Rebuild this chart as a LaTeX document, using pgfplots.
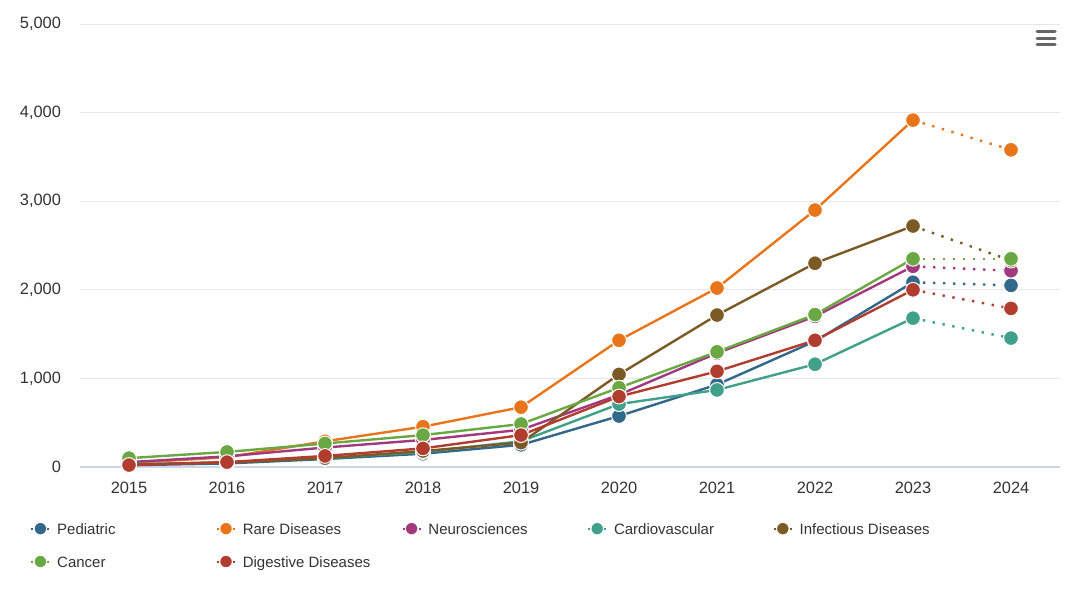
\documentclass[border=0pt]{standalone}
\usepackage{pgfplots}
\pgfplotsset{compat=1.18}
\usepackage{pgfplotstable}
\usepackage{fontspec}
\setmainfont{Liberation Sans}

\definecolor{pedc}{RGB}{50,104,138}
\definecolor{rarec}{RGB}{232,117,26}
\definecolor{neuroc}{RGB}{160,57,126}
\definecolor{cardc}{RGB}{64,160,138}
\definecolor{infc}{RGB}{123,90,37}
\definecolor{canc}{RGB}{106,168,67}
\definecolor{digc}{RGB}{176,61,46}
\definecolor{gridc}{RGB}{230,230,230}
\definecolor{axisc}{RGB}{204,214,235}
\definecolor{txtc}{RGB}{51,51,51}
\definecolor{menuc}{RGB}{102,102,102}

\pgfplotstableread{
year ped rare neuro cardio infect cancer digest
2015 20 45 55 30 25 100 22
2016 40 110 120 55 50 170 55
2017 90 290 220 100 100 265 125
2018 150 455 305 170 180 360 210
2019 250 675 420 290 275 485 360
2020 575 1430 815 710 1045 895 795
2021 930 2020 1285 870 1715 1300 1080
2022 1420 2900 1700 1160 2300 1720 1430
2023 2085 3915 2265 1680 2720 2350 2000
}\solid

\pgfplotstableread{
year ped rare neuro cardio infect cancer digest
2023 2085 3915 2265 1680 2720 2350 2000
2024 2050 3580 2215 1455 2330 2350 1790
}\proj

\newcommand{\legimg}[1]{%
  \draw[#1, line width=1pt] (0pt,1.2pt) -- (1pt,1.2pt) (8pt,1.2pt) -- (9pt,1.2pt);
  \fill[#1, draw=white, line width=0.4pt] (4.5pt,1.2pt) circle (3.1pt);}

\begin{document}
\begin{tikzpicture}
\useasboundingbox (0,0) rectangle (540pt,295pt);
\begin{axis}[
  at={(40pt,61.5pt)}, anchor=south west,
  scale only axis, width=490pt, height=221.5pt,
  xmin=2014.5, xmax=2024.5, ymin=0, ymax=5000,
  xtick={2015,2016,...,2024}, ytick={0,1000,...,5000},
  /pgf/number format/assume math mode=true,
  x tick label style={/pgf/number format/1000 sep=, font=\fontsize{8.2}{9}\selectfont, text=txtc, yshift=-4pt},
  y tick label style={/pgf/number format/1000 sep={,}, font=\fontsize{8.2}{9}\selectfont, text=txtc, xshift=-6pt},
  axis line style={draw=none},
  tick style={draw=none},
  ymajorgrids, grid style={gridc, line width=0.5pt},
  clip=false,
  every axis plot/.append style={line width=1.2pt, mark=*, mark size=3.7pt,
     mark options={draw=white, line width=0.5pt, solid}},
  legend columns=5,
  legend style={draw=none, fill=none, inner sep=0pt, at={(rel axis cs:-0.051,-0.119)}, anchor=north west,
     font=\fontsize{7.5}{8.5}\selectfont, text=txtc, row sep=5.5pt,
     /tikz/every odd column/.append style={column sep=1.4pt},
     /tikz/every even column/.append style={column sep=0pt}},
  legend cell align=left,
]
\draw[axisc, line width=0.6pt] (rel axis cs:0,0) -- (rel axis cs:1,0);
\newcommand{\series}[3]{%
  \addplot[#2, legend image code/.code={\legimg{#2}}] table[x=year, y=#1] {\solid};
  \addlegendentry{\makebox[77.4pt][l]{#3}}
  \addplot[#2, forget plot, dash pattern=on 1.2pt off 3.8pt, line width=1.2pt, mark indices={2}] table[x=year, y=#1] {\proj};
}
\series{ped}{pedc}{Pediatric}
\series{rare}{rarec}{Rare Diseases}
\series{neuro}{neuroc}{Neurosciences}
\series{cardio}{cardc}{Cardiovascular}
\series{infect}{infc}{Infectious Diseases}
\series{cancer}{canc}{Cancer}
\series{digest}{digc}{Digestive Diseases}
\end{axis}
\draw[menuc, line width=1.5pt, line cap=round] (518.5pt,279pt) -- (527.5pt,279pt)
  (518.5pt,275.8pt) -- (527.5pt,275.8pt) (518.5pt,272.6pt) -- (527.5pt,272.6pt);
\end{tikzpicture}
\end{document}
